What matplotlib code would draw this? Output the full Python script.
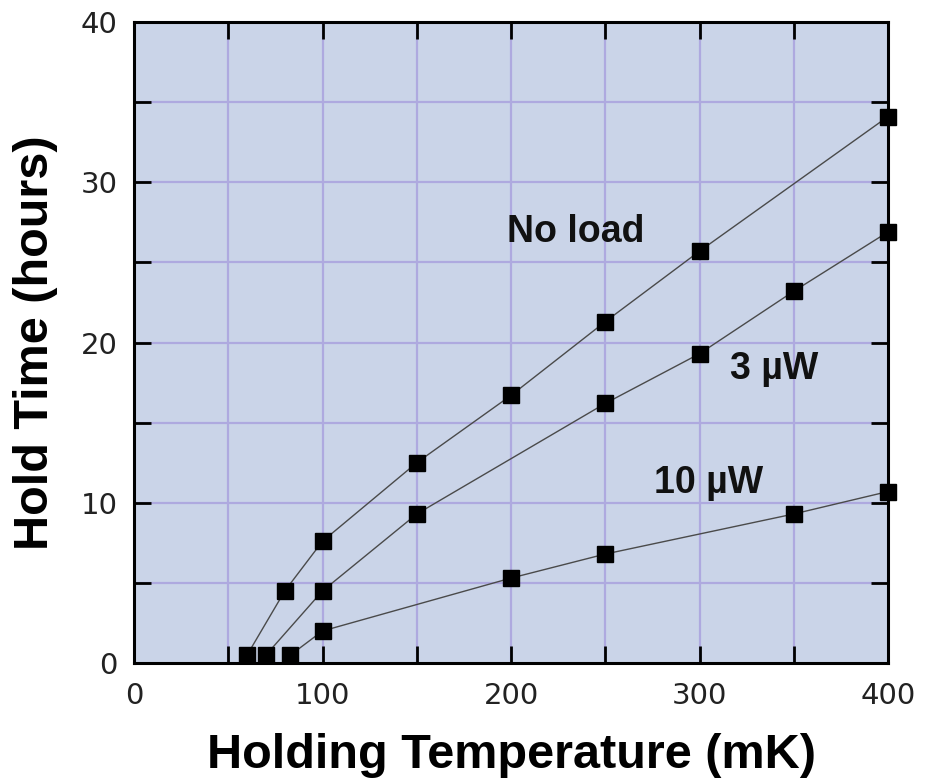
import matplotlib
matplotlib.use("Agg")
import matplotlib.pyplot as plt

# Hold time vs. holding temperature for three heat loads
temp_no_load = [60, 80, 100, 150, 200, 250, 300, 400]
hold_no_load = [0.5, 4.5, 7.6, 12.5, 16.7, 21.3, 25.7, 34.1]

temp_3uw = [70, 100, 150, 250, 300, 350, 400]
hold_3uw = [0.5, 4.5, 9.3, 16.2, 19.3, 23.2, 26.9]

temp_10uw = [83, 100, 200, 250, 350, 400]
hold_10uw = [0.5, 2.0, 5.3, 6.8, 9.3, 10.7]

series_labels = ["No load", "3 \u00b5W", "10 \u00b5W"]
label_pos = [(198, 26.3), (316, 17.7), (276, 10.6)]

x_ticks_major = [0, 100, 200, 300, 400]
y_ticks_major = [0, 10, 20, 30, 40]

fig = plt.figure(figsize=(9.25, 7.78), dpi=100)
ax = fig.add_axes([0.1449, 0.1478, 0.8151, 0.8239])

bg = "#cad4e8"
grid_c = "#aea9df"
ax.set_facecolor(bg)
ax.set_xlim(0, 400)
ax.set_ylim(0, 40)

# grid every 50 mK / 5 hours
for gx in range(50, 400, 50):
    ax.axvline(gx, color=grid_c, lw=1.6, zorder=0.5)
for gy in range(5, 40, 5):
    ax.axhline(gy, color=grid_c, lw=1.6, zorder=0.5)

for xs, ys in [(temp_no_load, hold_no_load), (temp_3uw, hold_3uw), (temp_10uw, hold_10uw)]:
    ax.plot(xs, ys, color="#4a4a4a", lw=1.0, zorder=3, clip_on=False)
    ax.plot(xs, ys, ls="none", marker="s", ms=12, color="black", zorder=4, clip_on=False)

for text, (tx, ty) in zip(series_labels, label_pos):
    ax.text(tx, ty, text, ha="left", va="baseline", fontsize=27,
            fontweight="bold", family=["Liberation Sans", "DejaVu Sans"], color="#111111")

ax.set_xticks(x_ticks_major)
ax.set_xticks(range(50, 400, 100), minor=True)
ax.set_yticks(y_ticks_major)
ax.set_yticks(range(5, 40, 10), minor=True)
ax.set_xticklabels([str(v) for v in x_ticks_major])
ax.set_yticklabels([str(v) for v in y_ticks_major])

for which in ("major", "minor"):
    ax.tick_params(axis="both", which=which, direction="in", length=12, width=2,
                   top=True, right=True, color="black")
ax.tick_params(axis="x", which="major", labelsize=21, pad=14)
ax.tick_params(axis="y", which="major", labelsize=21, pad=12)
for lab in ax.get_xticklabels() + ax.get_yticklabels():
    lab.set_family("DejaVu Sans")
    lab.set_color("#222222")

for sp in ax.spines.values():
    sp.set_linewidth(2.2)
    sp.set_color("black")
    sp.set_zorder(3.5)

ax.set_xlabel("Holding Temperature (mK)", fontsize=35, fontweight="bold",
              family="Liberation Sans", labelpad=16)
ax.set_ylabel("Hold Time (hours)", fontsize=35, fontweight="bold",
              family="Liberation Sans", labelpad=16)

fig.savefig("out.png", dpi=100, facecolor="white")
